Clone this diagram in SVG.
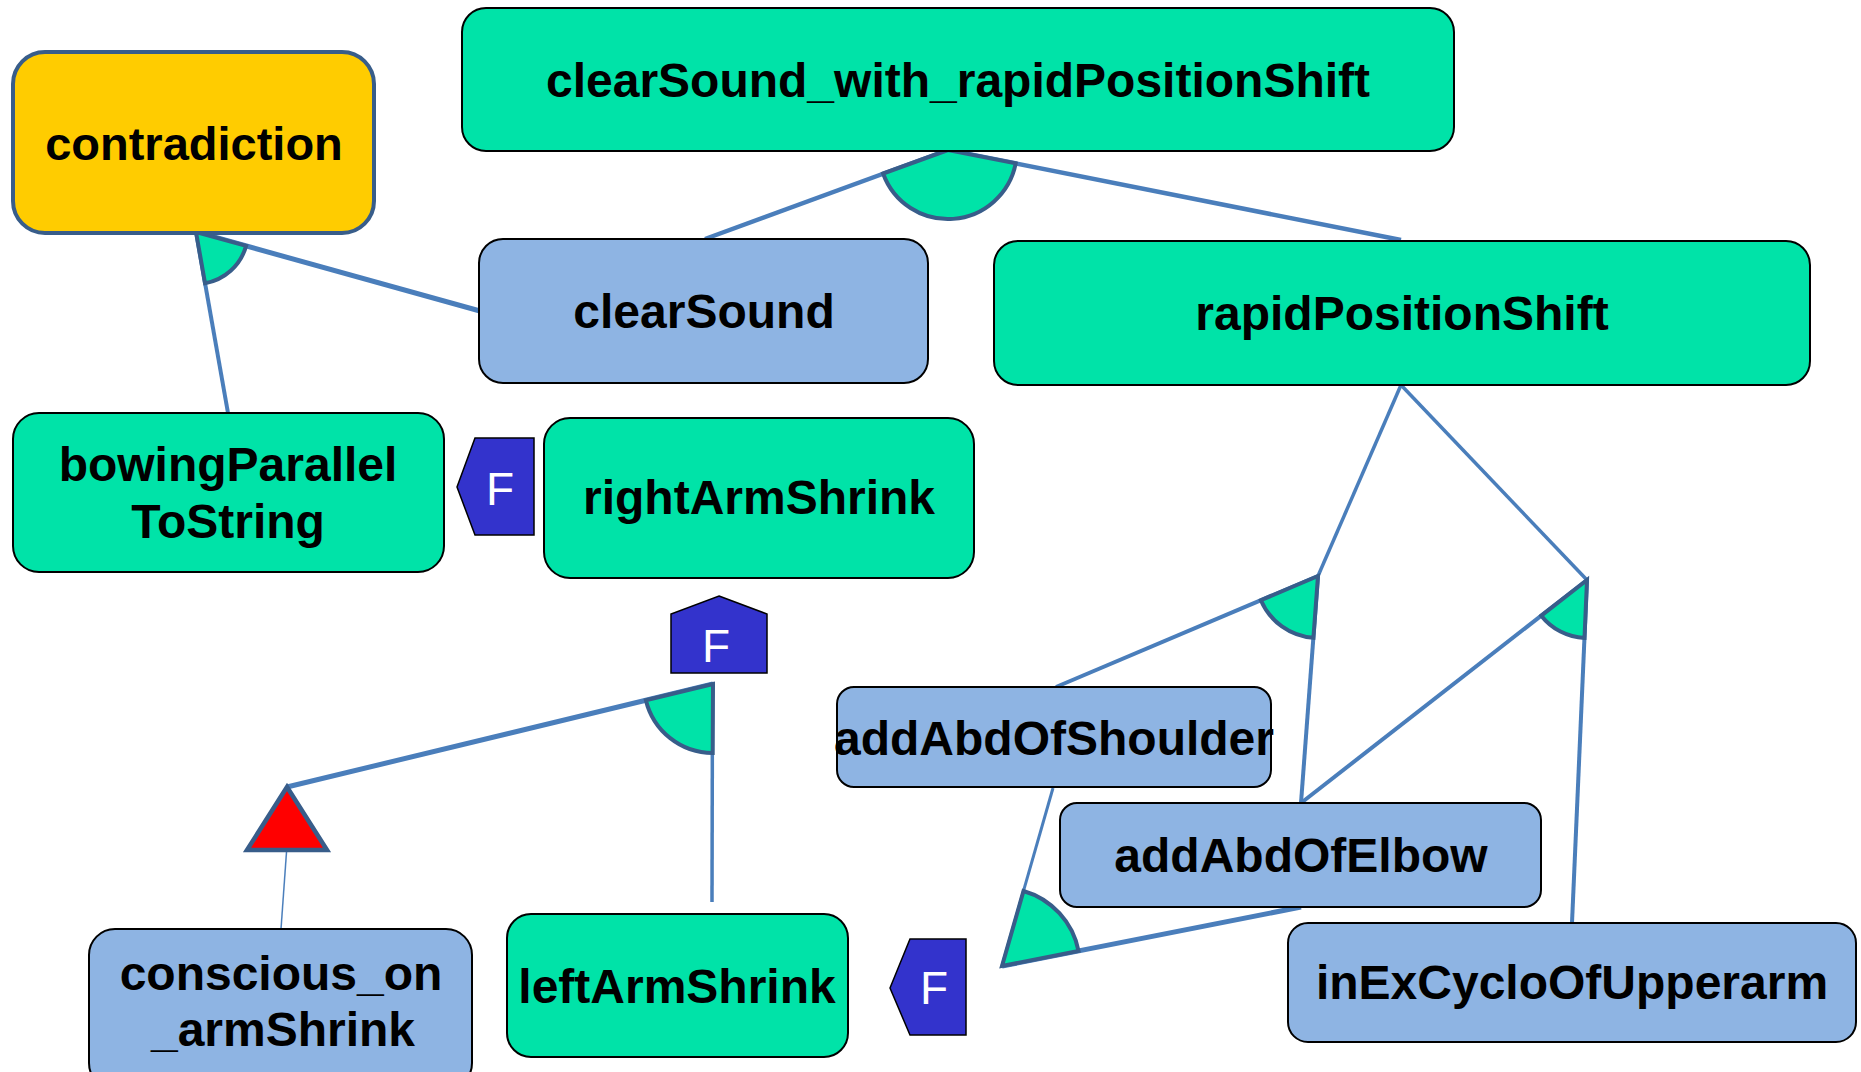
<svg xmlns="http://www.w3.org/2000/svg" width="1861" height="1072" viewBox="0 0 1861 1072">
  <style>
    .goal { fill: #00E3A8; stroke: #000; stroke-width: 2; }
    .soft { fill: #8EB4E3; stroke: #000; stroke-width: 2; }
    .conflict { fill: #FFCC00; stroke: #385D8A; stroke-width: 4; }
    .lbl { font-family: "Liberation Sans", Arial, sans-serif; font-weight: bold; font-size: 48px; fill: #000; text-anchor: middle; }
    .flag { fill: #3333CC; stroke: #000; stroke-width: 1.5; }
    .flagtxt { font-family: "Liberation Sans", Arial, sans-serif; font-size: 46px; fill: #fff; text-anchor: middle; }
    .edge { stroke: #4A7EBB; fill: none; stroke-linecap: butt; }
    .gate { fill: #00E3A8; stroke: #385D8A; stroke-width: 4; stroke-linejoin: miter; }
  </style>

  <!-- connectors and AND-gates -->
  <g id="connectors">
    <!-- clearSound_with_rapidPositionShift decomposition -->
    <line class="edge" x1="948" y1="150" x2="705" y2="239" stroke-width="4.5"/>
    <line class="edge" x1="948" y1="150" x2="1401" y2="240" stroke-width="4.5"/>
    <path class="gate" d="M948,150 L883.1,173.5 A69,69 0 0 0 1015.7,163.4 Z"/>

    <!-- contradiction -->
    <line class="edge" x1="196" y1="232" x2="480" y2="311" stroke-width="5"/>
    <line class="edge" x1="196" y1="232" x2="228" y2="413" stroke-width="4"/>
    <path class="gate" d="M196,232 L205,283.2 A52,52 0 0 0 246.1,245.9 Z"/>

    <!-- rapidPositionShift to its two gates -->
    <line class="edge" x1="1401" y1="385" x2="1318" y2="576" stroke-width="3.5"/>
    <line class="edge" x1="1401" y1="385" x2="1587" y2="580" stroke-width="3.5"/>

    <!-- gate A: shoulder + elbow -->
    <line class="edge" x1="1318" y1="576" x2="1056" y2="687" stroke-width="4"/>
    <line class="edge" x1="1318" y1="576" x2="1301" y2="803" stroke-width="4"/>
    <path class="gate" d="M1318,576 L1260.9,600.2 A62,62 0 0 0 1313.4,637.8 Z"/>

    <!-- gate B: elbow + upperarm -->
    <line class="edge" x1="1587" y1="580" x2="1301" y2="803" stroke-width="4"/>
    <line class="edge" x1="1587" y1="580" x2="1572" y2="923" stroke-width="4"/>
    <path class="gate" d="M1587,580 L1541.3,615.7 A58,58 0 0 0 1584.5,637.9 Z"/>

    <!-- gate C: shoulder + elbow (bottom) -->
    <line class="edge" x1="1002" y1="966" x2="1053" y2="788" stroke-width="3"/>
    <line class="edge" x1="1002" y1="966" x2="1301" y2="907" stroke-width="5"/>
    <path class="gate" d="M1002,966 L1023.5,891 A78,78 0 0 1 1078.5,950.9 Z"/>

    <!-- gate D: conscious (via triangle) + leftArmShrink -->
    <line class="edge" x1="713" y1="684" x2="287" y2="787" stroke-width="5"/>
    <line class="edge" x1="712.5" y1="684" x2="712" y2="902" stroke-width="3.5"/>
    <path class="gate" d="M713,684 L645.9,700.2 A69,69 0 0 0 712.7,753 Z"/>

    <line class="edge" x1="287" y1="845" x2="281" y2="929" stroke-width="1.5"/>
    <polygon id="conflict-mark" points="287,787 247,850 327,850" fill="#FF0000" stroke="#385D8A" stroke-width="4.5"/>
  </g>

  <g id="node-contradiction">
    <rect class="conflict" x="13" y="52" width="361" height="181" rx="32"/>
    <text class="lbl" x="194" y="160" style="font-size:47px">contradiction</text>
  </g>

  <g id="node-clearSound_with_rapidPositionShift">
    <rect class="goal" x="462" y="8" width="992" height="143" rx="24"/>
    <text class="lbl" x="958" y="97">clearSound_with_rapidPositionShift</text>
  </g>

  <g id="node-clearSound">
    <rect class="soft" x="479" y="239" width="449" height="144" rx="24"/>
    <text class="lbl" x="704" y="328">clearSound</text>
  </g>

  <g id="node-rapidPositionShift">
    <rect class="goal" x="994" y="241" width="816" height="144" rx="24"/>
    <text class="lbl" x="1402" y="330">rapidPositionShift</text>
  </g>

  <g id="node-bowingParallelToString">
    <rect class="goal" x="13" y="413" width="431" height="159" rx="26"/>
    <text class="lbl" x="228" y="481">bowingParallel</text>
    <text class="lbl" x="228" y="538">ToString</text>
  </g>

  <g id="flag-bowing">
    <polygon class="flag" points="457,487 475,438 534,438 534,535 475,535"/>
    <text class="flagtxt" x="500" y="505">F</text>
  </g>

  <g id="node-rightArmShrink">
    <rect class="goal" x="544" y="418" width="430" height="160" rx="26"/>
    <text class="lbl" x="759" y="514">rightArmShrink</text>
  </g>

  <g id="flag-rightArm">
    <polygon class="flag" points="719,596 767,614 767,673 671,673 671,614"/>
    <text class="flagtxt" x="716" y="662">F</text>
  </g>

  <g id="node-conscious_on_armShrink">
    <rect class="soft" x="89" y="929" width="383" height="160" rx="26"/>
    <text class="lbl" x="281" y="990">conscious_on</text>
    <text class="lbl" x="283" y="1046">_armShrink</text>
  </g>

  <g id="node-leftArmShrink">
    <rect class="goal" x="507" y="914" width="341" height="143" rx="24"/>
    <text class="lbl" x="677" y="1003">leftArmShrink</text>
  </g>

  <g id="flag-leftArm">
    <polygon class="flag" points="890,988 910,939 966,939 966,1035 910,1035"/>
    <text class="flagtxt" x="934" y="1004">F</text>
  </g>

  <g id="node-addAbdOfShoulder">
    <rect class="soft" x="837" y="687" width="434" height="100" rx="17"/>
    <text class="lbl" x="1054" y="755">addAbdOfShoulder</text>
  </g>

  <g id="node-addAbdOfElbow">
    <rect class="soft" x="1060" y="803" width="481" height="104" rx="17"/>
    <text class="lbl" x="1301" y="872">addAbdOfElbow</text>
  </g>

  <g id="node-inExCycloOfUpperarm">
    <rect class="soft" x="1288" y="923" width="568" height="119" rx="20"/>
    <text class="lbl" x="1572" y="999">inExCycloOfUpperarm</text>
  </g>
</svg>
